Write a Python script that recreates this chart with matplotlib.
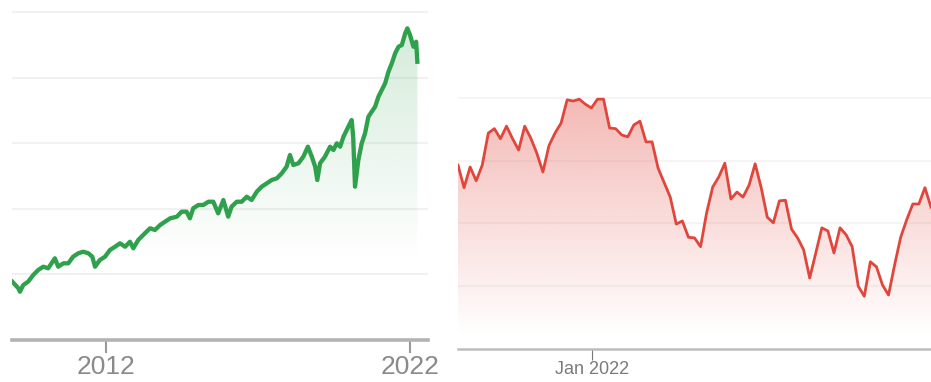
import numpy as np
import pandas as pd
import matplotlib
matplotlib.use("Agg")
import matplotlib.pyplot as plt
import matplotlib.dates as mdates
from matplotlib.colors import to_rgb

# ---- long-run index level (decimal year, level) ----
index_years = [
    2008.92, 2009.12, 2009.17, 2009.28, 2009.44, 2009.61, 2009.77, 2009.94,
    2010.10, 2010.32, 2010.43, 2010.60, 2010.76, 2010.92, 2011.09, 2011.25,
    2011.42, 2011.55, 2011.64, 2011.80, 2011.97, 2012.13, 2012.30, 2012.46,
    2012.63, 2012.79, 2012.90, 2013.06, 2013.28, 2013.45, 2013.61, 2013.78,
    2013.94, 2014.11, 2014.33, 2014.49, 2014.65, 2014.76, 2014.87, 2015.04,
    2015.20, 2015.37, 2015.53, 2015.69, 2015.86, 2016.02, 2016.13, 2016.30,
    2016.46, 2016.63, 2016.79, 2016.96, 2017.12, 2017.29, 2017.45, 2017.62,
    2017.78, 2017.94, 2018.05, 2018.16, 2018.33, 2018.49, 2018.64, 2018.77,
    2018.88, 2018.95, 2019.04, 2019.20, 2019.37, 2019.48, 2019.59, 2019.70,
    2019.81, 2019.97, 2020.08, 2020.13, 2020.19, 2020.30, 2020.41, 2020.52,
    2020.63, 2020.74, 2020.85, 2020.96, 2021.07, 2021.18, 2021.29, 2021.40,
    2021.51, 2021.62, 2021.73, 2021.84, 2021.91, 2022.00, 2022.11, 2022.20,
    2022.24,
]
index_values = [
    889, 788, 736, 838, 889, 991, 1067, 1117,
    1093, 1245, 1117, 1169, 1169, 1270, 1322, 1346,
    1322, 1270, 1117, 1220, 1270, 1372, 1422, 1474,
    1422, 1498, 1398, 1524, 1627, 1703, 1677, 1753,
    1803, 1855, 1880, 1956, 1956, 1855, 2008, 2058,
    2058, 2108, 2108, 1931, 2134, 1880, 2032, 2108,
    2108, 2184, 2134, 2261, 2337, 2389, 2439, 2465,
    2541, 2642, 2820, 2668, 2694, 2794, 2947, 2794,
    2642, 2439, 2694, 2794, 2947, 2896, 2998, 2947,
    3099, 3252, 3354, 3099, 2337, 2744, 2998, 3151,
    3404, 3480, 3556, 3709, 3811, 3913, 4090, 4218,
    4370, 4471, 4497, 4675, 4751, 4649, 4471, 4547,
    4242,
]
index_ticks = [2012, 2022]
index_grid = [1000, 2000, 3000, 4000, 5000]

# ---- weekly closes, recent period ----
weekly_start = "2021-07-30"
weekly_values = [
    29.3, 25.7, 29.0, 26.8, 29.3, 34.4, 35.1, 33.5, 35.5, 33.5,
    31.7, 35.5, 33.6, 31.2, 28.2, 32.4, 34.4, 36.0, 39.7, 39.5,
    39.8, 39.0, 38.4, 39.8, 39.8, 35.2, 35.1, 34.1, 33.8, 35.7,
    36.3, 33.0, 33.0, 28.8, 26.5, 24.2, 19.9, 20.4, 17.8, 17.7,
    16.3, 21.7, 25.8, 27.4, 29.6, 23.9, 25.0, 24.2, 26.1, 29.5,
    25.7, 21.0, 20.1, 23.6, 23.7, 19.1, 17.7, 15.8, 11.3, 15.3,
    19.3, 18.8, 15.3, 19.3, 18.2, 16.3, 10.0, 8.4, 13.9, 13.1,
    10.2, 8.6, 13.4, 17.8, 20.6, 23.1, 23.1, 25.7, 22.6,
]
weekly_grid = [10, 20, 30, 40]
weekly_tick = "2022-01-01"
weekly_tick_label = "Jan 2022"

GREEN = "#2fa14d"
RED = "#e0463b"
FONT = ["Liberation Sans Narrow", "Liberation Sans", "DejaVu Sans"]

W, H = 931, 382
fig = plt.figure(figsize=(W / 100, H / 100), dpi=100)
fig.patch.set_facecolor("white")


def gradient_fill(ax, x, y, color, a_top, a_bottom, y_top, y_bottom):
    """Fill under a line with a vertical alpha gradient."""
    poly = ax.fill_between(x, y, 0, color="none", lw=0)
    path = poly.get_paths()[0]
    n = 256
    rgb = to_rgb(color)
    img = np.zeros((n, 1, 4))
    img[:, 0, :3] = rgb
    img[:, 0, 3] = np.linspace(a_top, a_bottom, n)
    x0, x1 = ax.get_xlim()
    im = ax.imshow(img, extent=[x0, x1, y_bottom, y_top], aspect="auto",
                   origin="upper", zorder=1, interpolation="bilinear")
    im.set_clip_path(path, transform=ax.transData)
    ax.set_xlim(x0, x1)


def style_axis(ax, spine_lw, spine_color):
    for s in ("left", "right", "top"):
        ax.spines[s].set_visible(False)
    ax.spines["bottom"].set_linewidth(spine_lw)
    ax.spines["bottom"].set_color(spine_color)
    ax.spines["bottom"].set_zorder(4)
    ax.set_yticks([])
    ax.set_facecolor("none")


# ---- left panel ----
axL = fig.add_axes([12 / W, (H - 340) / H, 416 / W, 340 / H])
axL.set_xlim(2008.91, 2022.59)
axL.set_ylim(0, 5183)
for g in index_grid:
    axL.axhline(g, color="#f1f1f1", lw=1.5, zorder=0)
gradient_fill(axL, index_years, index_values, GREEN, 0.22, 0.0, 5000, 1200)
axL.plot(index_years, index_values, color=GREEN, lw=3.1, zorder=3)
style_axis(axL, 2.6, "#b3b3b3")
axL.set_xticks(index_ticks)
axL.set_xticklabels([str(t) for t in index_ticks])
axL.tick_params(axis="x", length=9.5, width=1.5, color="#9a9a9a",
                pad=1.5, labelsize=19, labelcolor="#8a8a8a")
for lab in axL.get_xticklabels():
    lab.set_family(FONT)

# ---- right panel ----
dates = pd.date_range(weekly_start, periods=len(weekly_values), freq="7D")
xnum = mdates.date2num(dates)
axR = fig.add_axes([458 / W, (H - 349) / H, 473 / W, 349 / H])
axR.set_xlim(xnum[0], xnum[-1])
axR.set_ylim(0, 55.6)
for g in weekly_grid:
    axR.axhline(g, color="#f5f5f5", lw=1.5, zorder=0)
gradient_fill(axR, xnum, weekly_values, RED, 0.38, 0.0, 40, 2)
axR.plot(xnum, weekly_values, color=RED, lw=2.0, zorder=3)
style_axis(axR, 1.8, "#bdbdbd")
tick_x = mdates.date2num(pd.Timestamp(weekly_tick))
axR.set_xticks([tick_x])
axR.set_xticklabels([weekly_tick_label])
axR.tick_params(axis="x", length=8, width=0.8, color="#777777",
                pad=0.5, labelsize=13, labelcolor="#7a7a7a")
for lab in axR.get_xticklabels():
    lab.set_family(FONT)

fig.savefig("out.png", dpi=100, facecolor="white")
